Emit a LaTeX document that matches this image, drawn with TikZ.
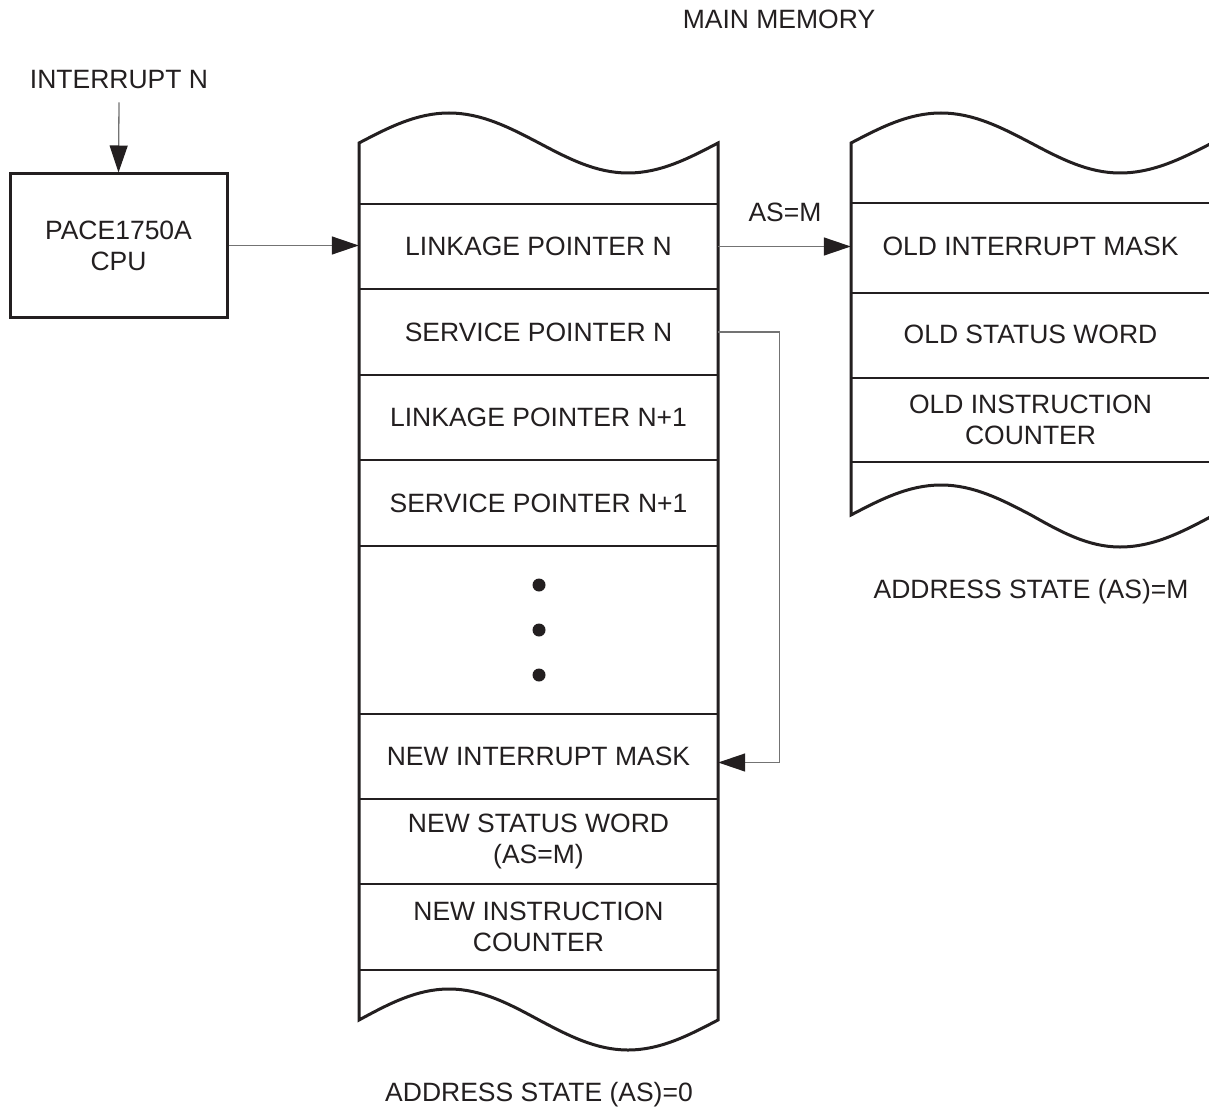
\documentclass[tikz,border=0pt]{standalone}
\usepackage{fontspec}
\setmainfont{Liberation Sans}
\usetikzlibrary{arrows.meta}
\definecolor{ink}{HTML}{231F20}
\definecolor{connc}{gray}{0.45}
\begin{document}
\begin{tikzpicture}[x=1pt,y=-1pt,
  font=\fontsize{26.5}{31}\selectfont,
  every node/.style={text=ink},
  lcell/.style={minimum width=359pt, minimum height=85pt, inner sep=0pt, align=center},
  rcell/.style={minimum width=359pt, minimum height=86pt, inner sep=0pt, align=center},
  lbl/.style={inner sep=0pt},
  colline/.style={draw=ink, line width=3pt, line join=miter},
  divline/.style={draw=ink, line width=2pt},
  conn/.style={draw=connc, line width=1.3pt},
  tipped/.style={-{Triangle[length=27pt,width=18pt,color=ink]}}
]
\clip (0,0) rectangle (1209,1107);
\fill[white] (0,0) rectangle (1209,1107);

% labels
\node[lbl] (mm) at (779,19) {MAIN MEMORY};
\node[lbl] (intr) at (119,80) {INTERRUPT N};
\node[lbl] (asm) at (1031,592) {ADDRESS STATE (AS)=M};
\node[lbl] (as0) at (539,1095) {ADDRESS STATE (AS)=0};
\node[lbl] (asl) at (785,212) {AS=M};

% CPU
\node[draw=ink, line width=3pt, minimum width=217pt, minimum height=143pt, inner sep=0pt, align=center]
  (cpu) at (118.5,245.5) {PACE1750A\\CPU};

% left column cells
\node[lcell] (lp)  at (538.5,246.5) {LINKAGE POINTER N};
\node[lcell] (sp)  at (538.5,332)   {SERVICE POINTER N};
\node[lcell] (lp1) at (538.5,417.5) {LINKAGE POINTER N+1};
\node[lcell] (sp1) at (538.5,503)   {SERVICE POINTER N+1};
\node[lcell] (nim) at (538.5,756.5) {NEW INTERRUPT MASK};
\node[lcell] (nsw) at (538.5,841.5) {NEW STATUS WORD\\(AS=M)};
\node[lcell] (nic) at (538.5,927)   {NEW INSTRUCTION\\COUNTER};

% right column cells
\node[rcell] (oim) at (1030.5,246)   {OLD INTERRUPT MASK};
\node[rcell] (osw) at (1030.5,334)   {OLD STATUS WORD};
\node[rcell] (oic) at (1030.5,420)   {OLD INSTRUCTION\\COUNTER};

% dividers left
\foreach \yy in {204,289,375,460,546,714,799,884,970}
  \draw[divline] (359,\yy) -- (718,\yy);
% dividers right
\foreach \yy in {203,293,378,462}
  \draw[divline] (851,\yy) -- (1212,\yy);

% dots
\foreach \yy in {585,630,675}
  \fill[ink] (539,\yy) circle (6.5pt);

% left column outline
\draw[colline] (359,143) sin (449,113) cos (539,143) sin (628,173) cos (718,143)
  -- (718,1020) sin (628,1050) cos (539,1020) sin (449,989) cos (359,1020) -- cycle;

% right column outline
\draw[colline] (851,143) sin (941,113) cos (1031,143) sin (1120,173) cos (1212,143)
  -- (1214,515) sin (1120,547) cos (1031,515) sin (941,485) cos (851,515) -- cycle;

% connectors
\draw[conn,tipped] ([yshift=-13pt]intr.south) -- (cpu.north);
\draw[conn,tipped] (cpu.east) -- (cpu.east -| lp.west);
\draw[conn,tipped] (lp.east) -- (lp.east -| oim.west);
\draw[conn,tipped] (sp.east) -- ++(61,0) |- ([yshift=-6pt]nim.east);
\end{tikzpicture}
\end{document}
